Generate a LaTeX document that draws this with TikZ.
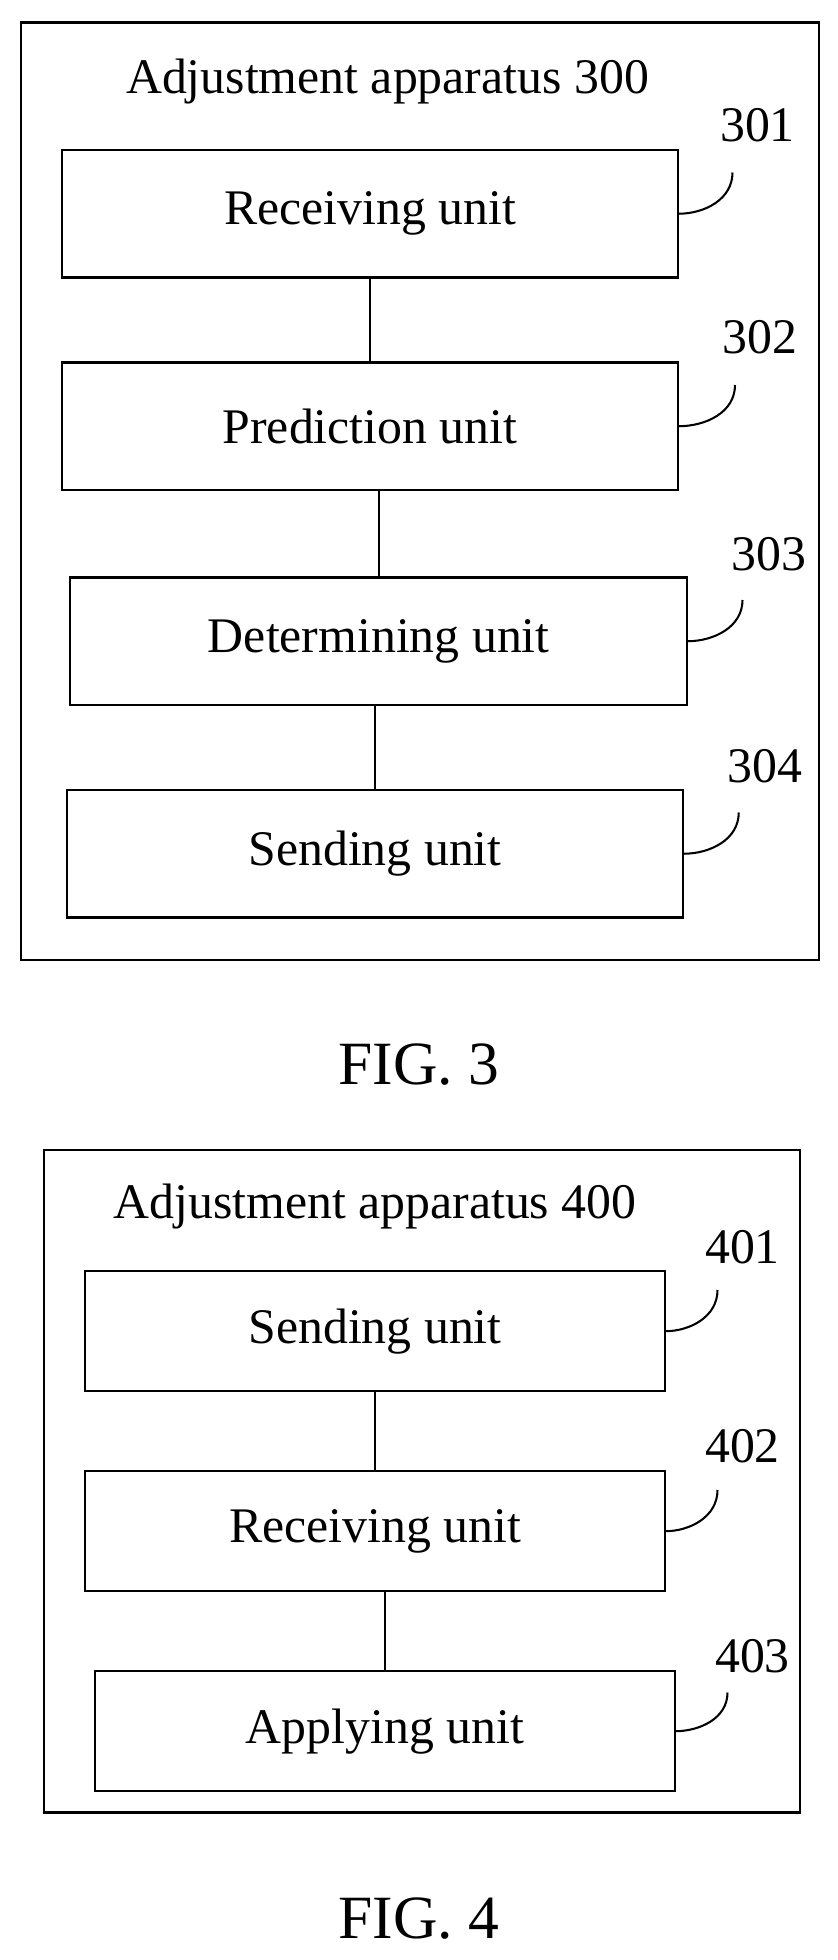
\documentclass[tikz,border=0pt]{standalone}
\usepackage{fontspec}
\setmainfont{Liberation Serif}
\begin{document}
\begin{tikzpicture}[x=0.03cm, y=-0.03cm, line width=1.4pt,
                    every node/.style={font=\fontsize{34}{40}\selectfont},
                    unit/.style={draw, outer sep=0pt, minimum width=14.8cm, minimum height=3.06cm},
                    small unit/.style={unit, minimum width=13.9cm, minimum height=2.88cm}]
  \useasboundingbox (0,0) rectangle (670,1568);

  % FIG. 3
  \draw (17,18) rectangle (655,768);
  \node (title3) at (310,65) {Adjustment apparatus 300};
  \node[unit] (recv3) at (296,171) {Receiving unit};
  \node[unit] (pred3) at (296,341) {Prediction unit};
  \node[unit] (det3) at (303,513) {Determining unit};
  \node[unit] (send3) at (300,683) {Sending unit};
  \node (n301) at (606,100) {301};
  \node (n302) at (608,270) {302};
  \node (n303) at (615,443) {303};
  \node (n304) at (612,613) {304};
  \coordinate (c301) at (586,138);
  \coordinate (c302) at (588,308);
  \coordinate (c303) at (594,480);
  \coordinate (c304) at (591,650);
  \draw (recv3) -- (pred3);
  \draw (pred3.south -| det3.north) -- (det3);
  \draw (det3.south -| send3.north) -- (send3);
  \draw (recv3.east) to[out=0, in=-90] (c301);
  \draw (pred3.east) to[out=0, in=-90] (c302);
  \draw (det3.east) to[out=0, in=-90] (c303);
  \draw (send3.east) to[out=0, in=-90] (c304);
  \node (fig3) at (335,852) {\fontsize{42}{50}\selectfont FIG. 3};

  % FIG. 4
  \draw (35,920) rectangle (640,1450);
  \node (title4) at (300,965) {Adjustment apparatus 400};
  \node[small unit] (send4) at (300,1065) {Sending unit};
  \node[small unit] (recv4) at (300,1225) {Receiving unit};
  \node[small unit] (appl4) at (308,1385) {Applying unit};
  \node (n401) at (594,998) {401};
  \node (n402) at (594,1157) {402};
  \node (n403) at (602,1325) {403};
  \coordinate (c401) at (574,1032);
  \coordinate (c402) at (574,1192);
  \coordinate (c403) at (582,1354);
  \draw (send4) -- (recv4);
  \draw (recv4.south -| appl4.north) -- (appl4);
  \draw (send4.east) to[out=0, in=-90] (c401);
  \draw (recv4.east) to[out=0, in=-90] (c402);
  \draw (appl4.east) to[out=0, in=-90] (c403);
  \node (fig4) at (335,1535) {\fontsize{42}{50}\selectfont FIG. 4};
\end{tikzpicture}
\end{document}
